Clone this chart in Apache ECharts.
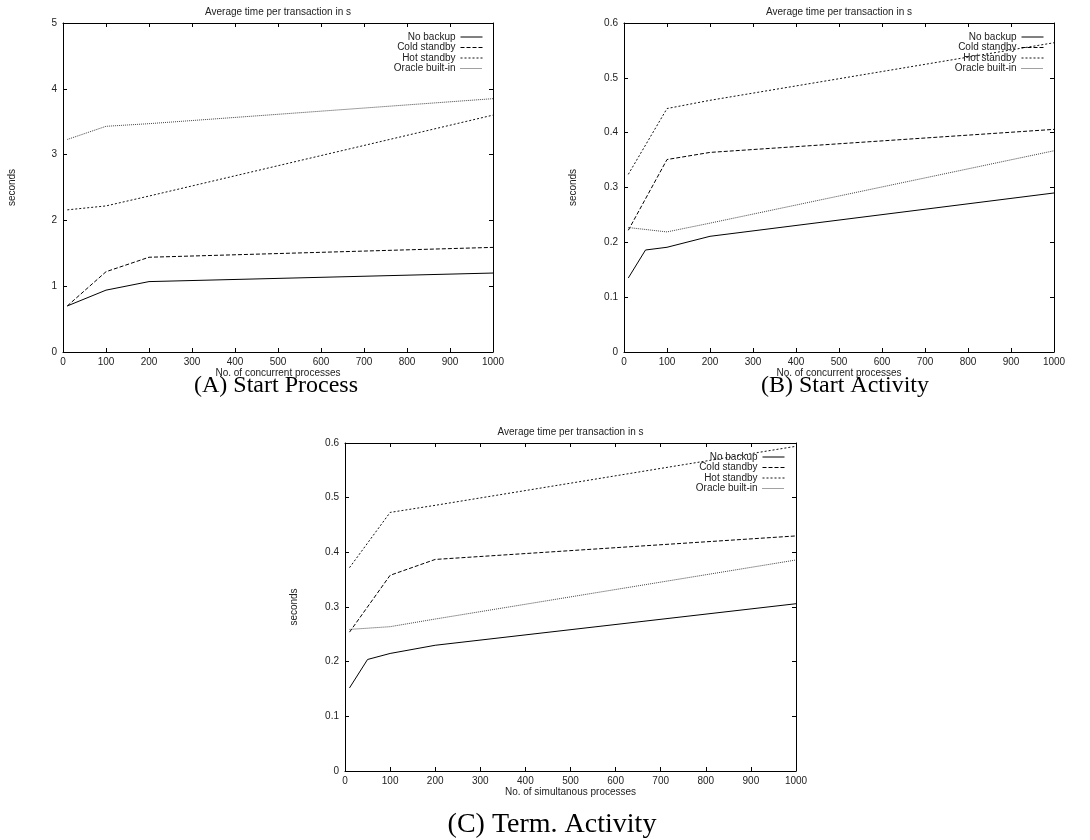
<!DOCTYPE html>
<html>
<head>
<meta charset="utf-8">
<script src="https://cdn.jsdelivr.net/npm/echarts@6/dist/echarts.min.js"></script>
<style>
  html, body { margin: 0; padding: 0; background: #fff; }
  #chart { width: 1090px; height: 840px; }
</style>
</head>
<body>
<div id="chart"></div>
<script>
// series names
const names = ['No backup', 'Cold standby', 'Hot standby', 'Oracle built-in'];

// (A) Start Process
const procA = [10, 100, 200, 1000];
const aNoBackup = [0.70, 0.94, 1.07, 1.20];
const aCold = [0.70, 1.22, 1.44, 1.59];
const aHot = [2.16, 2.22, 2.37, 3.60];
const aOracle = [3.23, 3.43, 3.47, 3.85];

// (B) Start Activity
const procB = [10, 50, 100, 200, 1000];
const bNoBackup = [0.135, 0.186, 0.191, 0.211, 0.290];
const bCold = [0.222, null, 0.351, 0.364, 0.406];
const bHot = [0.324, null, 0.444, 0.459, 0.564];
const bOracle = [0.227, null, 0.219, 0.235, 0.367];

// (C) Term. Activity
const procC = [10, 50, 100, 200, 1000];
const cNoBackup = [0.152, 0.204, 0.215, 0.230, 0.306];
const cCold = [0.254, null, 0.358, 0.387, 0.430];
const cHot = [0.372, null, 0.473, 0.486, 0.594];
const cOracle = [0.259, null, 0.264, 0.278, 0.386];

const chartTitle = 'Average time per transaction in s';
const captions = ['(A) Start Process', '(B) Start Activity', '(C) Term. Activity'];

// line look per series: solid, dashed, dotted, fine dotted
const styles = [
  { type: 'solid', color: '#000' },
  { type: [4, 2], color: '#000' },
  { type: [2, 2], color: '#111' },
  { type: [1, 1], color: '#444' }
];

const sans = 'Liberation Sans, Arial, sans-serif';
const serif = 'Liberation Serif, Times New Roman, serif';
const txt = '#222';

const panels = [
  { xs: procA, ys: [aNoBackup, aCold, aHot, aOracle], yMax: 5, yStep: 1,
    xName: 'No. of concurrent processes',
    grid: { left: 63, top: 23, width: 430, height: 329 },
    legend: { right: 607, top: 32 } },
  { xs: procB, ys: [bNoBackup, bCold, bHot, bOracle], yMax: 0.6, yStep: 0.1,
    xName: 'No. of concurrent processes',
    grid: { left: 624, top: 23, width: 430, height: 329 },
    legend: { right: 46, top: 32 } },
  { xs: procC, ys: [cNoBackup, cCold, cHot, cOracle], yMax: 0.6, yStep: 0.1,
    xName: 'No. of simultanous processes',
    grid: { left: 345, top: 443, width: 451, height: 328 },
    legend: { right: 305, top: 452 } }
];

const grid = [], xAxis = [], yAxis = [], series = [], legend = [], title = [];

const tick = { show: true, inside: true, length: 4, lineStyle: { color: '#000' } };
const line = { show: true, onZero: false, lineStyle: { color: '#000', width: 1 } };
const lbl = { color: txt, fontSize: 10, fontFamily: sans };

panels.forEach(function (p, i) {
  grid.push(p.grid);
  const cx = p.grid.left + p.grid.width / 2;

  // bottom axis + mirrored top axis
  xAxis.push({
    type: 'value', gridIndex: i, min: 0, max: 1000, interval: 100,
    axisLine: line, axisTick: tick, splitLine: { show: false },
    axisLabel: Object.assign({ margin: 5, formatter: function (v) { return String(v); } }, lbl),
    name: p.xName, nameLocation: 'middle', nameGap: 15,
    nameTextStyle: { color: txt, fontSize: 10, fontFamily: sans }
  });
  xAxis.push({
    type: 'value', gridIndex: i, position: 'top', min: 0, max: 1000, interval: 100,
    axisLine: line, axisTick: tick, splitLine: { show: false }, axisLabel: { show: false }
  });

  // left axis + mirrored right axis
  yAxis.push({
    type: 'value', gridIndex: i, min: 0, max: p.yMax, interval: p.yStep,
    axisLine: line, axisTick: tick, splitLine: { show: false },
    axisLabel: Object.assign({ margin: 6 }, lbl),
    name: 'seconds', nameLocation: 'middle', nameGap: 46, nameRotate: 90,
    nameTextStyle: { color: txt, fontSize: 10, fontFamily: sans }
  });
  yAxis.push({
    type: 'value', gridIndex: i, position: 'right', min: 0, max: p.yMax, interval: p.yStep,
    axisLine: line, axisTick: tick, splitLine: { show: false }, axisLabel: { show: false }
  });

  p.ys.forEach(function (vals, k) {
    series.push({
      name: names[k],
      type: 'line',
      xAxisIndex: i * 2,
      yAxisIndex: i * 2,
      symbol: 'none',
      connectNulls: true,
      data: p.xs.map(function (x, j) { return [x, vals[j]]; }),
      lineStyle: { width: 1, type: styles[k].type, color: styles[k].color },
      itemStyle: { color: styles[k].color }
    });
  });

  legend.push({
    data: names, orient: 'vertical', align: 'right',
    right: p.legend.right, top: p.legend.top, padding: 0,
    itemWidth: 22, itemHeight: 10, itemGap: 0.5,
    itemStyle: { opacity: 0 },
    lineStyle: { width: 1 },
    textStyle: { color: txt, fontSize: 10, fontFamily: sans, lineHeight: 10 }
  });

  title.push({
    text: chartTitle, left: cx, top: p.grid.top - 16, textAlign: 'center', padding: 0,
    textStyle: { color: txt, fontSize: 10, fontWeight: 'normal', fontFamily: sans }
  });
});

// captions below each panel
title.push({ text: captions[0], left: 271, top: 369, textAlign: 'center',
  textStyle: { color: '#000', fontSize: 24, fontWeight: 'normal', fontFamily: serif } });
title.push({ text: captions[1], left: 840, top: 369, textAlign: 'center',
  textStyle: { color: '#000', fontSize: 24, fontWeight: 'normal', fontFamily: serif } });
title.push({ text: captions[2], left: 547, top: 806, textAlign: 'center',
  textStyle: { color: '#000', fontSize: 28, fontWeight: 'normal', fontFamily: serif } });

const chart = echarts.init(document.getElementById('chart'));
chart.setOption({
  animation: false,
  backgroundColor: '#fff',
  title: title,
  legend: legend,
  grid: grid,
  xAxis: xAxis,
  yAxis: yAxis,
  series: series
});
</script>
</body>
</html>
